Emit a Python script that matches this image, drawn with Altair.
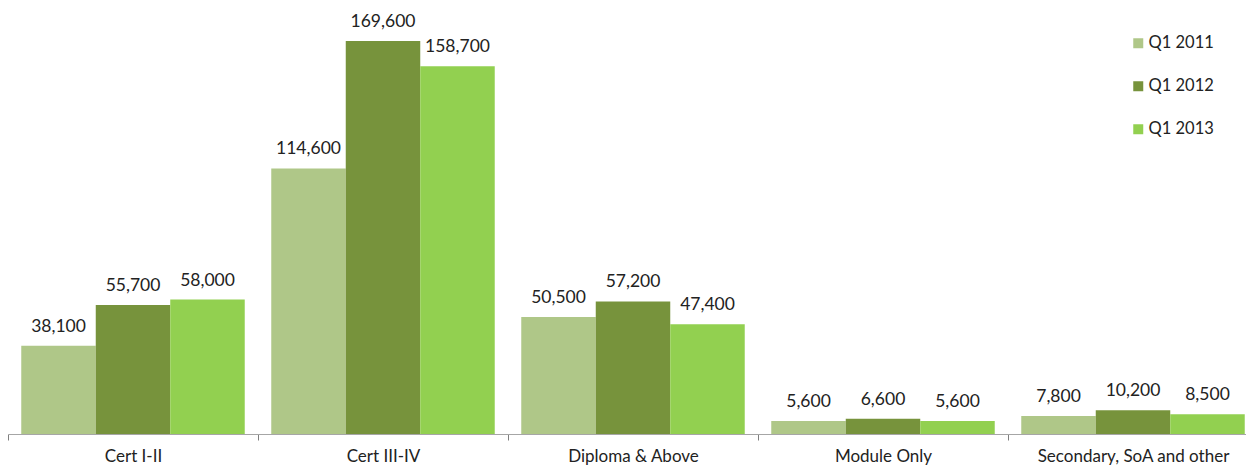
import altair as alt
import pandas as pd

categories = ["Cert I-II", "Cert III-IV", "Diploma & Above", "Module Only", "Secondary, SoA and other"]
series = ["Q1 2011", "Q1 2012", "Q1 2013"]
q1_2011 = [38100, 114600, 50500, 5600, 7800]
q1_2012 = [55700, 169600, 57200, 6600, 10200]
q1_2013 = [58000, 158700, 47400, 5600, 8500]
colors = ["#AFC788", "#77933C", "#92D050"]

rows = []
for s, vals in zip(series, [q1_2011, q1_2012, q1_2013]):
    for c, v in zip(categories, vals):
        rows.append({"category": c, "series": s, "value": v})
df = pd.DataFrame(rows)

FONT = "Lato"

base = alt.Chart(df).encode(
    x=alt.X("category:N", sort=categories, title=None,
            scale=alt.Scale(paddingInner=0, paddingOuter=0, range=[0, 1250]),
            axis=alt.Axis(labelAngle=0, tickBand="extent", labelFontSize=17, labelFont=FONT,
                          labelColor="#222222", labelPadding=8, tickSize=6, labelLimit=400,
                          domainColor="#a6a6a6", tickColor="#7f7f7f")),
    xOffset=alt.XOffset("series:N", sort=series,
                        scale=alt.Scale(paddingInner=0, paddingOuter=0.178)),
    y=alt.Y("value:Q", scale=alt.Scale(domain=[0, 183800], nice=False), axis=None),
)

bars = base.mark_bar().encode(
    color=alt.Color("series:N", sort=series,
                    scale=alt.Scale(domain=series, range=colors),
                    legend=alt.Legend(title=None, orient="none", legendX=1122, legendY=27,
                                      symbolType="square", symbolSize=100, symbolStrokeWidth=0,
                                      labelFontSize=16.5, labelFont=FONT, labelColor="#222222",
                                      rowPadding=26, labelOffset=2)),
)

labels = base.mark_text(baseline="alphabetic", dy=-14, fontSize=17.5, font=FONT, color="#222222").encode(
    text=alt.Text("value:Q", format=",")
)

chart = (bars + labels).properties(
    width=1238, height=426,
    padding={"left": 0, "top": 0, "right": 0, "bottom": 40},
    autosize=alt.AutoSizeParams(type="none")
).configure_view(stroke=None).configure_axis(grid=False)

chart.save("out.html", embed_options={"renderer": "svg", "actions": False})
